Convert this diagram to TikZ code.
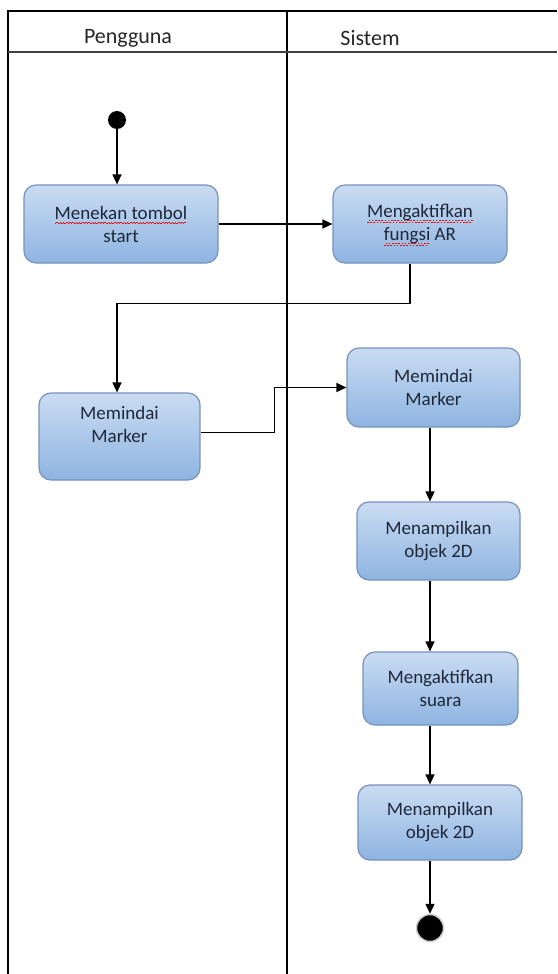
\documentclass[tikz,border=0pt]{standalone}
\usepackage{fontspec}
\setmainfont{Carlito}
\usepackage{tikz}
\usetikzlibrary{positioning, calc, arrows.meta}

\definecolor{boxTop}{RGB}{202,220,242}
\definecolor{boxBot}{RGB}{142,180,225}
\definecolor{boxLine}{RGB}{118,146,188}
\definecolor{boxText}{RGB}{30,40,58}

% red wavy spell-check underline
\newsavebox\ejaBox
\newcommand{\salahEja}[1]{\sbox\ejaBox{#1}%
  \rlap{\raisebox{-5pt}[0pt][0pt]{\hbox to \wd\ejaBox{\color{red}%
    \leaders\hbox{\rule[0pt]{1.6pt}{0.8pt}\rule[1.3pt]{1.6pt}{0.8pt}}\hfill}}}%
  \usebox\ejaBox}

\begin{document}
\begin{tikzpicture}[
    x=1pt, y=-1pt,
    aksi/.style={rectangle, draw=boxLine, line width=1.2pt, top color=boxTop,
                 bottom color=boxBot, rounded corners=12pt, align=center,
                 text=boxText, inner sep=2pt, font=\fontsize{19}{23}\selectfont},
    judul/.style={text=black!85, font=\fontsize{22}{24}\selectfont},
    lajur/.style={line width=1.4pt},
    flow/.style={-{Triangle[length=10pt,width=9pt]}, line width=1.3pt}
  ]
  \useasboundingbox (0,0) rectangle (557,974);

  % Swimlanes
  \draw[lajur] (557,11) -- (8,11) -- (8,974);
  \draw[lajur] (287,11) -- (287,974);
  \draw[lajur, black!75] (8,52) -- (557,52);
  \node[judul] (Pengguna) at (128,38) {Pengguna};
  \node[judul] (Sistem) at (370,38) {Sistem};

  % Start / end
  \node[circle, fill=black, minimum size=18pt, inner sep=0pt] (Mulai) at (117,120) {};
  \node[circle, fill=black, draw=black!20, line width=1.5pt, minimum size=27pt,
        inner sep=0pt] (Selesai) at (430,928) {};

  % Pengguna lane
  \node[aksi, minimum width=194pt, minimum height=78pt] (Tekan) at (121,224)
    {\salahEja{Menekan tombol}\\start};
  \node[aksi, minimum width=161pt, minimum height=87pt, text depth=25pt] (Pindai1)
    at (119.5,436.5) {Memindai\\Marker};

  % Sistem lane
  \node[aksi, minimum width=174pt, minimum height=78pt] (Aktif) at (420,224)
    {\salahEja{Mengaktifkan}\\\salahEja{fungsi} AR};
  \node[aksi, minimum width=173pt, minimum height=79pt] (Pindai2) at (433.5,387.5)
    {Memindai\\Marker};
  \node[aksi, minimum width=163pt, minimum height=78pt] (Tampil1) at (438.5,541)
    {Menampilkan\\objek 2D};
  \node[aksi, minimum width=155pt, minimum height=73pt] (Suara) at (440.5,688.5)
    {Mengaktifkan\\suara};
  \node[aksi, minimum width=164pt, minimum height=75pt] (Tampil2) at (440,822.5)
    {Menampilkan\\objek 2D};

  % Flows
  \draw[flow] (Mulai) -- (Mulai |- Tekan.north);
  \draw[flow] (Tekan.east) -- (Aktif.west);
  \draw[flow] ([xshift=-10pt]Aktif.south) -- ++(0,40) -| ([xshift=-2.5pt]Pindai1.north);
  \draw[flow] ([yshift=4pt]Pindai1.east) -- ++(74,0) |- (Pindai2.west);
  \draw[flow] (Pindai2.south -| Selesai) -- (Tampil1.north -| Selesai);
  \draw[flow] (Tampil1.south -| Selesai) -- (Suara.north -| Selesai);
  \draw[flow] (Suara.south -| Selesai) -- (Tampil2.north -| Selesai);
  \draw[flow] (Tampil2.south -| Selesai) -- (Selesai);
\end{tikzpicture}
\end{document}
